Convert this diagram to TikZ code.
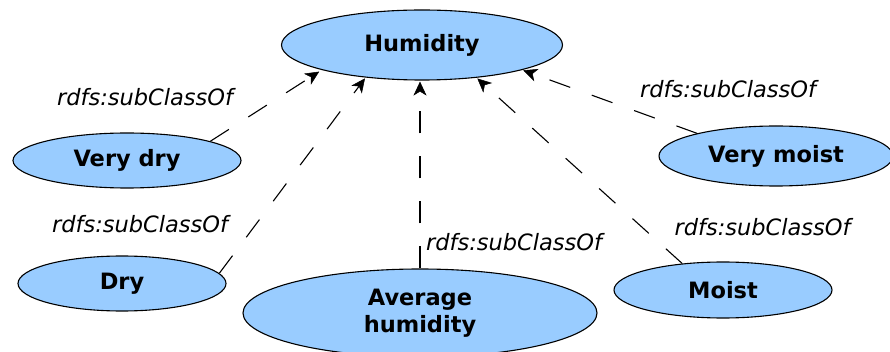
\documentclass[tikz,border=0pt]{standalone}
\usepackage{fontspec}
\setmainfont{DejaVu Sans}
\usetikzlibrary{shapes.geometric,arrows.meta}
\definecolor{classfill}{HTML}{99CCFF}
\tikzset{
  cls/.style={ellipse, draw=black, line width=1.1pt, fill=classfill, inner sep=0pt,
    font=\fontsize{22.5}{27}\selectfont\bfseries, align=center},
  subrel/.style={line width=1.1pt, dash pattern=on 22pt off 23pt,
    -{Stealth[length=14pt,width=13pt,inset=4pt,line width=0.5pt]}, shorten >=1pt},
  rellabel/.style={font=\fontsize{22.5}{27}\selectfont\itshape, inner sep=0pt}
}
\begin{document}
\begin{tikzpicture}[x=1pt,y=-1pt]
  \useasboundingbox (0,0) rectangle (890,352);

  % classes
  \node[cls, minimum width=281pt, minimum height=70pt] (hum)    at (422,45)  {Humidity};
  \node[cls, minimum width=228pt, minimum height=55pt] (vdry)   at (127,160.5) {Very dry};
  \node[cls, minimum width=208pt, minimum height=55pt] (dry)    at (122,283.5) {Dry};
  \node[cls, minimum width=354pt, minimum height=88pt] (avg)    at (420,313) {Average\\humidity};
  \node[cls, minimum width=234pt, minimum height=60pt] (vmoist) at (776,156) {Very moist};
  \node[cls, minimum width=218pt, minimum height=56pt] (moist)  at (723,290) {Moist};

  % subclass relations
  \draw[subrel, shorten >=3pt] (vdry.13) -- (hum.194);
  \draw[subrel] (dry.6) -- (hum.210);
  \draw[subrel] (avg.north) -- (avg.north |- hum.south);
  \draw[subrel] (moist.147) -- (hum.329);
  \draw[subrel] (vmoist.164) -- (hum.346);

  % relation labels
  \node[rellabel] (l1) at (145,97)    {rdfs:subClassOf};
  \node[rellabel] (l2) at (140,224.5) {rdfs:subClassOf};
  \node[rellabel] (l3) at (514,242.5) {rdfs:subClassOf};
  \node[rellabel] (l4) at (728,89.5)  {rdfs:subClassOf};
  \node[rellabel] (l5) at (762.5,227) {rdfs:subClassOf};
\end{tikzpicture}
\end{document}
